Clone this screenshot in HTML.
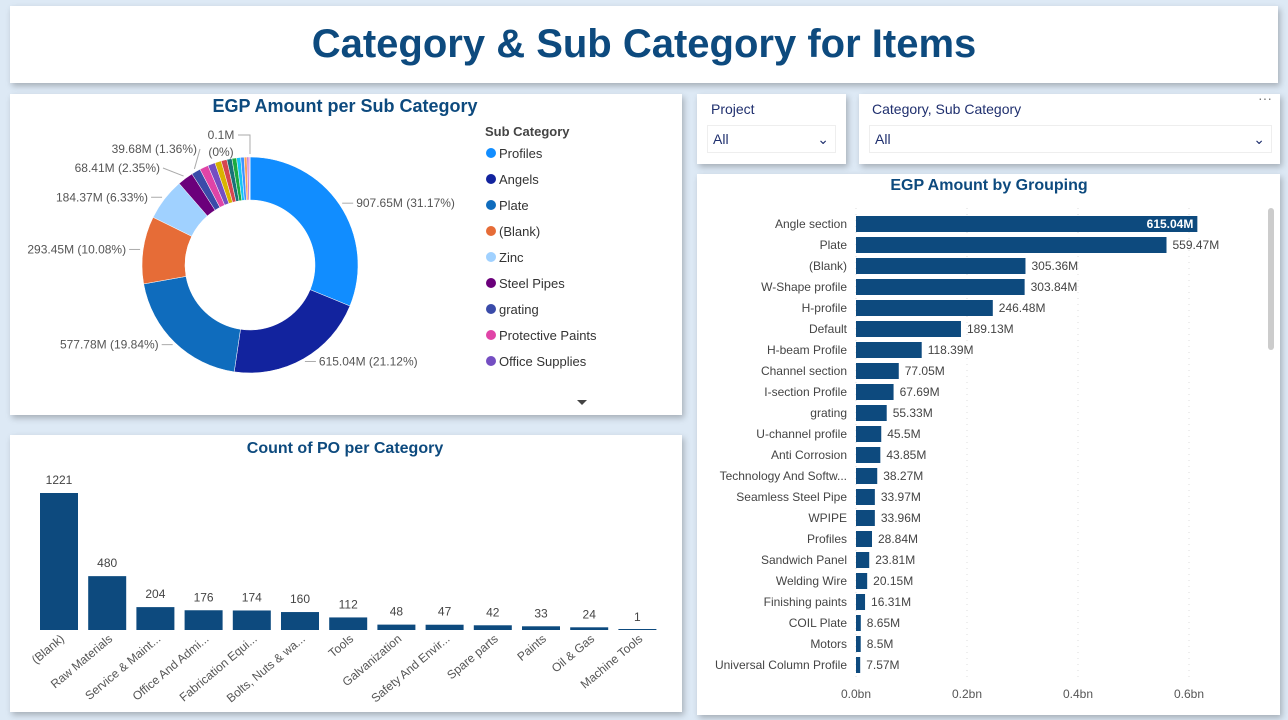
<!DOCTYPE html>
<html><head><meta charset="utf-8"><style>
body{margin:0;width:1288px;height:720px;background:#dde9f5;font-family:"Liberation Sans",sans-serif;overflow:hidden;position:relative}
.p{position:absolute;background:#fff;box-shadow:2px 3px 6px rgba(0,0,0,0.25)}
svg text{font-family:"Liberation Sans",sans-serif}
</style></head><body>
<div class="p" style="left:10px;top:6px;width:1268px;height:77px;text-align:center;line-height:77px;font-size:40px;font-weight:bold;color:#0d4a7e">Category &amp; Sub Category for Items</div>
<div class="p" style="left:10px;top:94px;width:672px;height:321px"></div>
<div class="p" style="left:10px;top:435px;width:672px;height:277px"></div>
<div class="p" style="left:697px;top:94px;width:149px;height:70px">
<div style="position:absolute;left:14px;top:7px;font-size:14px;color:#1f2f6e">Project</div>
<div style="position:absolute;left:10px;top:31px;width:127px;height:26px;border:1px solid #eee;font-size:14px;color:#1f2f6e;line-height:26px;text-indent:5px">All<span style="position:absolute;right:6px;top:0;color:#1f2f6e">&#8964;</span></div></div>
<div class="p" style="left:859px;top:94px;width:421px;height:70px">
<div style="position:absolute;left:13px;top:7px;font-size:14px;color:#1f2f6e">Category, Sub Category</div>
<div style="position:absolute;right:8px;top:-4px;font-size:14px;color:#777">&middot;&middot;&middot;</div>
<div style="position:absolute;left:10px;top:31px;width:401px;height:26px;border:1px solid #eee;font-size:14px;color:#1f2f6e;line-height:26px;text-indent:5px">All<span style="position:absolute;right:6px;top:0">&#8964;</span></div></div>
<div class="p" style="left:697px;top:174px;width:583px;height:541px"></div>
<svg width="1288" height="720" style="position:absolute;left:0;top:0" id="s">
<text x="345" y="112" text-anchor="middle" font-size="18" font-weight="bold" fill="#0d4a7e">EGP Amount per Sub Category</text>
<text x="345" y="453" text-anchor="middle" font-size="16" font-weight="bold" fill="#0d4a7e">Count of PO per Category</text>
<text x="989" y="190" text-anchor="middle" font-size="16" font-weight="bold" fill="#0d4a7e">EGP Amount by Grouping</text>
<text x="485" y="136" font-size="13" font-weight="bold" fill="#444">Sub Category</text>
<path d="M577 400 l5 5 l5 -5z" fill="#444"/>
<rect x="1268" y="208" width="6" height="142" rx="3" fill="#ccc"/>
<g id="g"></g>
</svg>
<script>
const NS="http://www.w3.org/2000/svg";
const g=document.getElementById('g');
function el(t,a,txt){const e=document.createElementNS(NS,t);for(const k in a)e.setAttribute(k,a[k]);if(txt!==undefined)e.textContent=txt;g.appendChild(e);return e;}
// donut data
const subCats=["Profiles","Angels","Plate","(Blank)","Zinc","Steel Pipes","grating","Protective Paints","Office Supplies","s10","s11","s12","s13","s14","s15","s16","s17","s18","s19"];
const subVals=[907.65,615.04,577.78,293.45,184.37,68.41,39.68,38,32,28,25,22,20,18,15,12,8,5,0.1];
const subPct=["31.17","21.12","19.84","10.08","6.33","2.35","1.36","","","","","","","","","","","","0"];
const subColors=["#118dff","#12239e","#0f6cbd","#e66c37","#a0d1ff","#6b007b","#3a4ba9","#e044a7","#744ec2","#d9b300","#d64550","#197278","#1aab40","#15c6f4","#4092ff","#ffa058","#be5dc9","#f472d0","#b5a1ff"];
const legendN=9;
const cx=250,cy=265,R=108,r=65;
const tot=subVals.reduce((a,b)=>a+b,0);
let ang=0;
subVals.forEach((v,i)=>{
 const a0=ang,a1=ang+v/tot*2*Math.PI;ang=a1;
 const p=(a,rr)=>[cx+rr*Math.sin(a),cy-rr*Math.cos(a)];
 const [x0,y0]=p(a0,R),[x1,y1]=p(a1,R),[x2,y2]=p(a1,r),[x3,y3]=p(a0,r);
 const lg=(a1-a0)>Math.PI?1:0;
 const s=el('path',{d:`M${x0} ${y0}A${R} ${R} 0 ${lg} 1 ${x1} ${y1}L${x2} ${y2}A${r} ${r} 0 ${lg} 0 ${x3} ${y3}Z`,fill:subColors[i],stroke:'#fff','stroke-width':0.5});
 
 
 if(subPct[i]!==""){
  const m=(a0+a1)/2;const [lx,ly]=p(m,R+3);
  const right=Math.sin(m)>0.05;
  let tx=right?lx+14:lx-14, ty=ly;
  if(i==5){tx=160;ty=168;} if(i==6){tx=197;ty=149;}
  if(i==subVals.length-1){
   el('polyline',{points:`${lx},${ly} ${lx},135 238,135`,fill:'none',stroke:'#aaa'});
   const t1=el('text',{x:221,y:139,'font-size':12,fill:'#555','text-anchor':'middle'},v+"M");
   
   
   const t2=el('text',{x:221,y:156,'font-size':12,fill:'#555','text-anchor':'middle'},"("+subPct[i]+"%)");
   
   
   return;
  }
  el('line',{x1:lx,y1:ly,x2:right?tx-3:tx+3,y2:ty,stroke:'#aaa'});
  const t=el('text',{x:tx,y:ty+4,'font-size':12,fill:'#555','text-anchor':right?'start':'end'},v+"M ("+subPct[i]+"%)");
  
  
 }
});
for(let i=0;i<legendN;i++){
 const y=153+i*26;
 const c=el('circle',{cx:491,cy:y,r:5,fill:subColors[i]});
 
 
 const t=el('text',{x:499,y:y+5,'font-size':13,fill:'#333'},subCats[i]);
 
 
}
// column chart
const cats=["(Blank)","Raw Materials","Service & Maint...","Office And Admi...","Fabrication Equi...","Bolts, Nuts & wa...","Tools","Galvanization","Safety And Envir...","Spare parts","Paints","Oil & Gas","Machine Tools"];
const counts=[1221,480,204,176,174,160,112,48,47,42,33,24,1];
const base=630,yScale=v=>v*137/1221,x0c=40,step=48.2,bw=38;
cats.forEach((c,i)=>{
 const h=yScale(counts[i]),x=x0c+i*step;
 const b=el('rect',{x:x,y:base-Math.max(h,1),width:bw,height:Math.max(h,1),fill:'#0d4a7e'});
 
 
 const t=el('text',{x:x+bw/2,y:base-h-9,'font-size':12,fill:'#444','text-anchor':'middle'},counts[i]);
 
 
 const l=el('text',{x:x+bw/2+6,y:base+10,'font-size':12,fill:'#555','text-anchor':'end',transform:`rotate(-40 ${x+bw/2+6} ${base+10})`},c);
 
 
});
// horizontal bar chart
const groups=["Angle section","Plate","(Blank)","W-Shape profile","H-profile","Default","H-beam Profile","Channel section","I-section Profile","grating","U-channel profile","Anti Corrosion","Technology And Softw...","Seamless Steel Pipe","WPIPE","Profiles","Sandwich Panel","Welding Wire","Finishing paints","COIL Plate","Motors","Universal Column Profile"];
const amounts=[615.04,559.47,305.36,303.84,246.48,189.13,118.39,77.05,67.69,55.33,45.5,43.85,38.27,33.97,33.96,28.84,23.81,20.15,16.31,8.65,8.5,7.57];
const xTicks=[0,0.2,0.4,0.6];
const xTickLabels=["0.0bn","0.2bn","0.4bn","0.6bn"];
const hx=v=>856+v*555/1000;
xTicks.forEach((t,i)=>{
 const x=hx(t*1000);
 el('line',{x1:x,y1:208,x2:x,y2:680,stroke:'#ddd','stroke-dasharray':'1 5'});
 const tl=el('text',{x:x,y:698,'font-size':12,fill:'#555','text-anchor':'middle'},xTickLabels[i]);
 
 
});
groups.forEach((gname,i)=>{
 const y=224+i*21,w=hx(amounts[i])-856;
 const b=el('rect',{x:856,y:y-8,width:w,height:16,fill:'#0d4a7e'});
 
 
 const l=el('text',{x:847,y:y+4,'font-size':12,fill:'#444','text-anchor':'end'},gname);
 
 
 const inside=i==0;
 const v=el('text',{x:inside?856+w-4:856+w+6,y:y+4,'font-size':12,fill:inside?'#fff':'#444','text-anchor':inside?'end':'start','font-weight':inside?'bold':'normal'},amounts[i]+"M");
 
 
});
</script>
</body></html>
